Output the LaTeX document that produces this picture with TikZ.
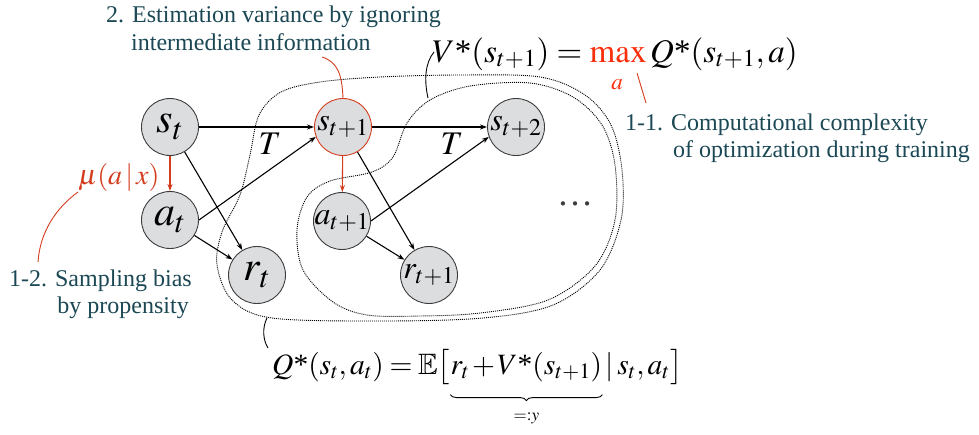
\documentclass[tikz,border=0pt]{standalone}
\usepackage{amssymb}
\usepackage{mathptmx}
\usepackage[no-math]{fontspec}
\setmainfont{Liberation Serif}
\usetikzlibrary{arrows.meta,decorations.pathreplacing}
\definecolor{noteteal}{RGB}{27,72,84}
\definecolor{leadred}{RGB}{212,60,30}
\definecolor{maxred}{RGB}{250,45,10}
\definecolor{nodegray}{RGB}{220,221,223}
\definecolor{rimgray}{RGB}{60,60,60}
\DeclareMathSizes{32}{32}{24}{18}
\newcommand{\tightmath}{\thickmuskip=3.5mu\relax\medmuskip=1.5mu\relax}

\begin{document}
\begin{tikzpicture}[x=1pt, y=-1pt,
  state/.style={circle, draw=rimgray, line width=0.9pt, fill=nodegray,
    minimum size=57pt, inner sep=-12pt},
  nowstate/.style={state, font=\fontsize{42}{42}\selectfont},
  nextstate/.style={state, font=\fontsize{32}{32}\selectfont},
  arr/.style={-{Stealth[length=7pt,width=5pt]}, line width=1.1pt},
  redarr/.style={arr, draw=leadred},
  region/.style={line width=0.9pt, dash pattern=on 1pt off 1pt},
  lead/.style={line width=0.9pt},
  note/.style={text=noteteal, font=\fontsize{24}{28}\selectfont, inner sep=0pt},
  formula/.style={font=\fontsize{33}{38}\selectfont, inner sep=0pt},
  tightformula/.style={font=\fontsize{29.5}{36}\selectfont\tightmath, inner sep=0pt}]
  \useasboundingbox (0,0) rectangle (979,434);

  % regions of Q* and V*
  \draw[region] plot[smooth cycle, tension=0.55] coordinates {
    (272,318) (232,300) (217,265) (222,232) (240,195) (250,155) (259,115)
    (281,92) (320,82) (380,77) (460,75) (540,77) (585,95) (611,125)
    (622,170) (621,220) (600,270) (553,305) (483,318) (380,321)};
  \draw[region] plot[smooth cycle, tension=0.55] coordinates {
    (367,315) (333,302) (303,270) (297,230) (307,197) (330,181) (372,172)
    (393,157) (407,123) (430,100) (470,86) (530,83) (573,97) (602,125)
    (615,165) (615,220) (595,266) (548,300) (480,313) (420,316)};

  % states
  \node[nowstate] (s0) at (170,127) {$s_t$};
  \node[nowstate] (a0) at (170,220) {$a_t$};
  \node[nowstate] (r0) at (257,275) {$r_t$};
  \node[nextstate, draw=leadred] (s1) at (343,127) {$s_{t+1}$};
  \node[nextstate] (a1) at (342,221) {$a_{t+1}$};
  \node[nextstate] (r1) at (429,275) {$r_{t+1}$};
  \node[nextstate] (s2) at (516,127) {$s_{t+2}$};
  \node[text=rimgray, font=\fontsize{36}{36}\selectfont, inner sep=0pt] (more) at (575,204) {\ldots};

  \draw[arr] (s0) -- (s1);
  \draw[arr] (s1) -- (s2);
  \draw[arr] (a0.east) -- (s1.200);
  \draw[arr] (a1.east) -- (s2.200);
  \draw[arr] (s0) -- (r0);
  \draw[arr] (a0) -- (r0);
  \draw[arr] (s1) -- (r1);
  \draw[arr] (a1) -- (r1);
  \draw[redarr] (s0) -- (a0);
  \draw[redarr] (s1) -- (a1);
  \node[formula] (trans0) at (270,144) {$T$};
  \node[formula] (trans1) at (452,144) {$T$};

  % formulas
  \node[formula, anchor=base west] (vstar) at (432,62)
    {$V\mbox{*}(s_{t+1}) = \mathop{\textcolor{maxred}{\mathrm{max}}}\nolimits Q\mbox{*}(s_{t+1}, a)$};
  \node[text=maxred, font=\fontsize{23}{23}\selectfont, inner sep=0pt] (maxsub) at (617,85) {$a$};
  \node[tightformula, anchor=base west] (qlhs) at (272,374)
    {$Q\mbox{*}(s_t, a_t) = \mathbb{E}\bigl[$};
  \node[tightformula, anchor=base west] (qsum) at (qlhs.base east)
    {$r_t + V\mbox{*}(s_{t+1})$};
  \node[tightformula, anchor=base west] (qcond) at (qsum.base east)
    {$\,|\, s_t, a_t\bigr]$};
  \draw[lead, decorate, decoration={brace, mirror, amplitude=6pt}]
    ([yshift=-13pt]qsum.south west) -- ([yshift=-13pt]qsum.south east);
  \node[font=\fontsize{17}{17}\selectfont, inner sep=0pt] (ydef) at ([yshift=-37pt]qsum.south)
    {$\mathord{=}\mathord{:}y$};
  \node[anchor=base west, text=leadred, font=\fontsize{28}{28}\selectfont, inner sep=0pt]
    (mu) at (78,184) {$\mu(a\,|\,x)$};

  % notes
  \node[note, anchor=base west] (varA) at (106,22) {2. Estimation variance by ignoring};
  \node[note, anchor=base west] (varB) at (131,50) {intermediate information};
  \node[note, anchor=base west] (compA) at (625,130) {1-1. Computational complexity};
  \node[note, anchor=base west] (compB) at (673,157) {of optimization during training};
  \node[note, anchor=base east] (biasA) at (192,286) {1-2. Sampling bias};
  \node[note, anchor=base east] (biasB) at (189,313) {by propensity};

  % leaders
  \coordinate (vfoot) at (428,98);   \coordinate (vtip) at (434,52);
  \coordinate (qfoot) at (267,318);  \coordinate (qtip) at (268,348);
  \coordinate (vartip) at (322,57);
  \coordinate (mufoot) at (78,192);  \coordinate (biastip) at (38,262);
  \coordinate (maxfoot) at (637,73); \coordinate (comptip) at (646,103);
  \draw[lead] (vfoot) .. controls (424,80) and (425,63) .. (vtip);
  \draw[lead] (qfoot) .. controls (262,328) and (263,340) .. (qtip);
  \draw[lead, leadred] (s1.north) .. controls (342,75) and (338,62) .. (vartip);
  \draw[lead, leadred] (mufoot) .. controls (56,208) and (40,232) .. (biastip);
  \draw[lead, leadred] (maxfoot) -- (comptip);
\end{tikzpicture}
\end{document}
